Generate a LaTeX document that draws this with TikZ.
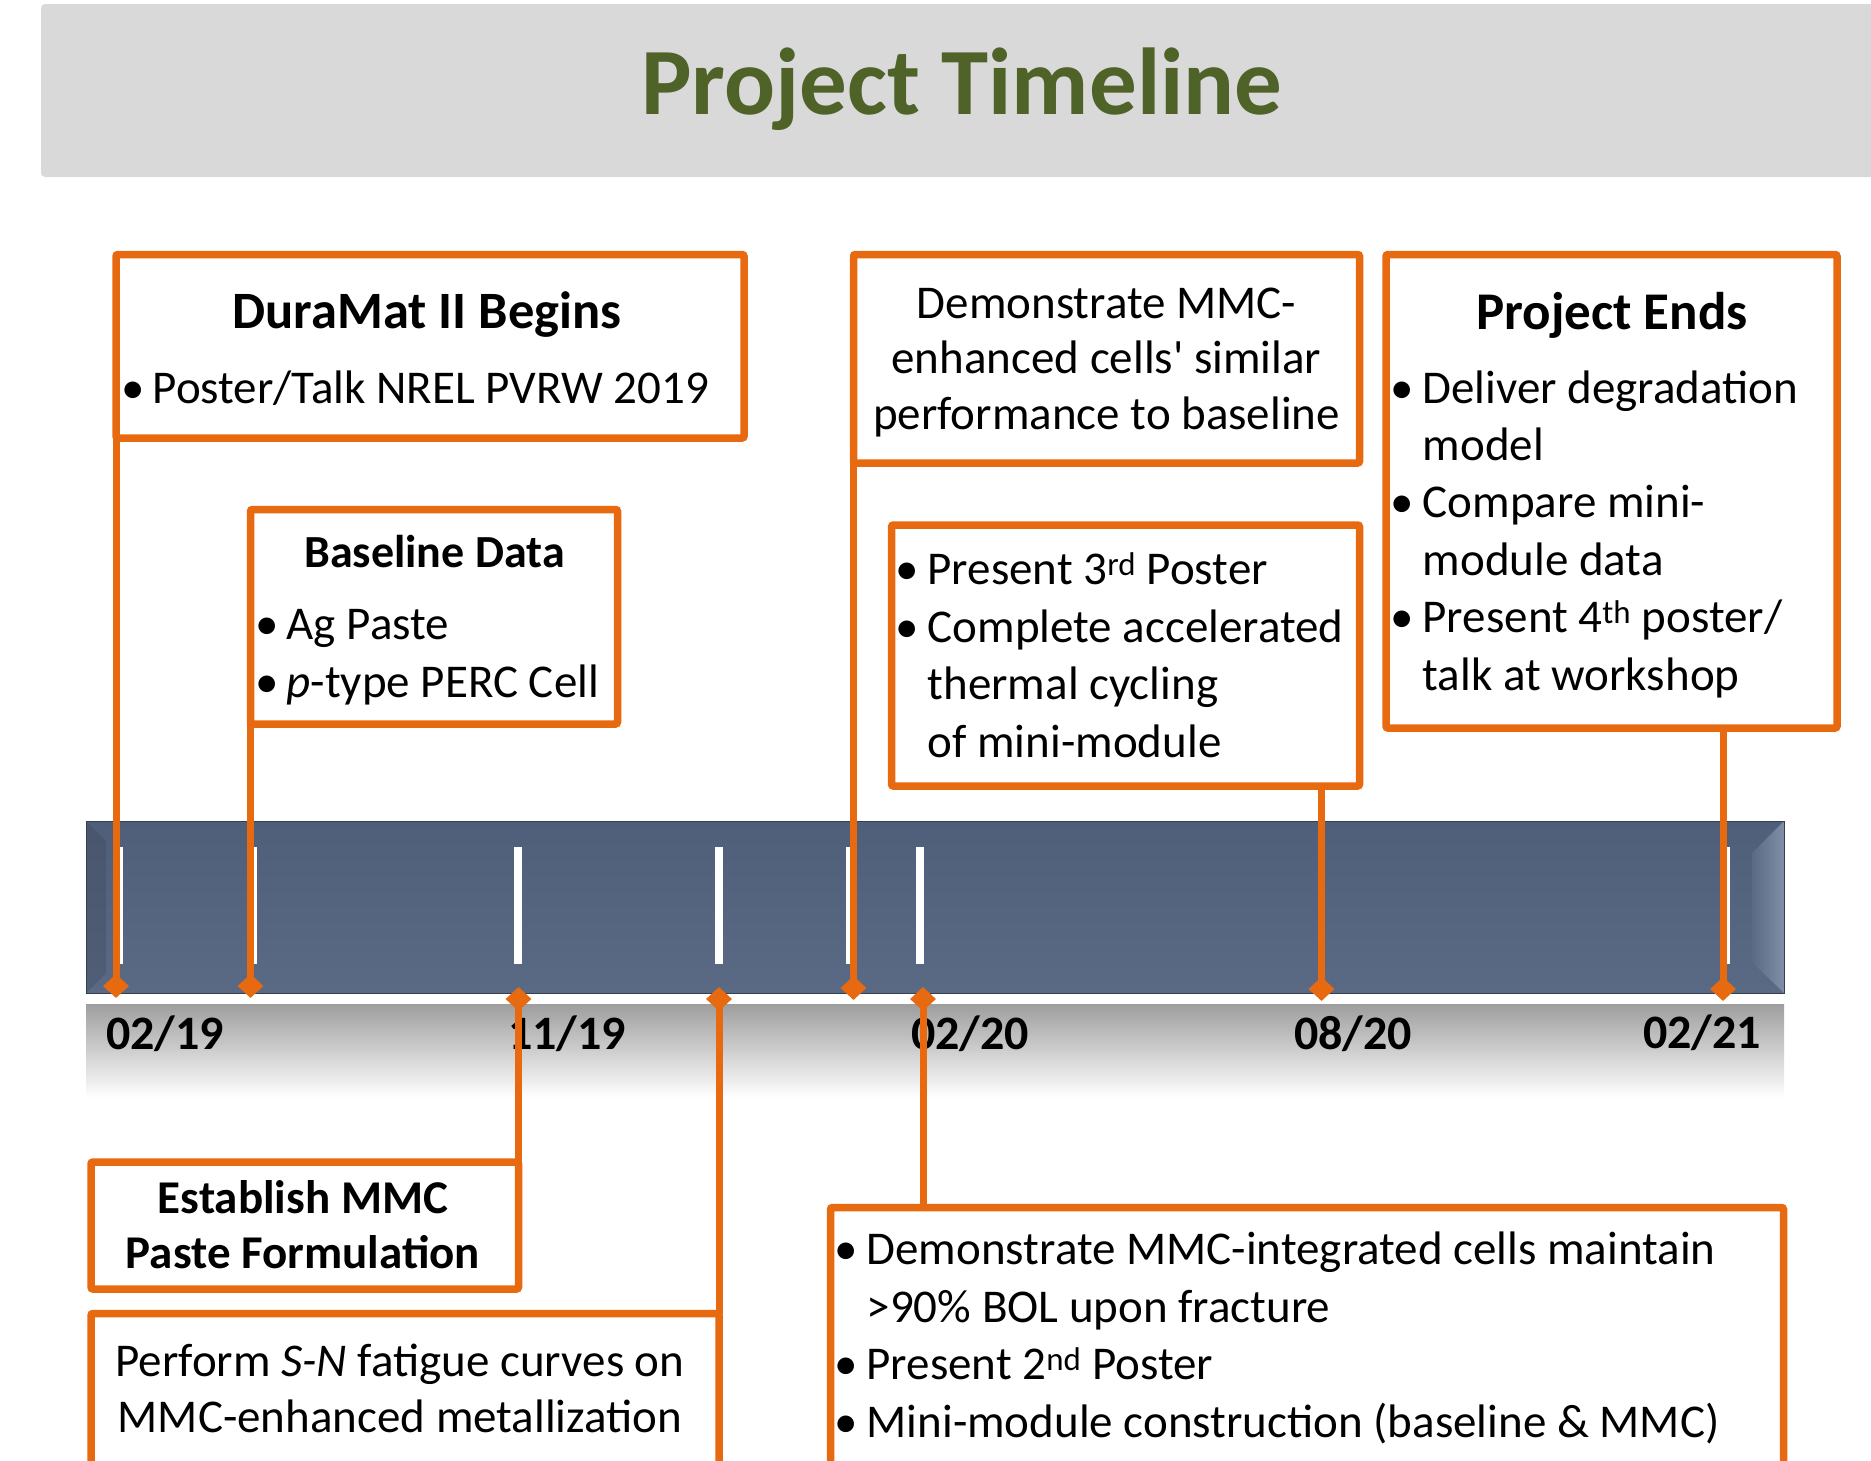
\documentclass[tikz,border=0pt]{standalone}
\usepackage{fontspec}
\setmainfont{Carlito}
\usepackage{tikz}
\usetikzlibrary{shapes.geometric}

\definecolor{tlorange}{RGB}{232,106,16}
\definecolor{tlgreen}{RGB}{79,98,40}
\definecolor{tlhead}{RGB}{217,217,217}
\definecolor{bartop}{RGB}{80,95,121}
\definecolor{barbot}{RGB}{90,106,132}
\definecolor{baredge}{RGB}{128,143,167}

\newcommand{\bul}[1][32pt]{\makebox[#1][l]{\textbullet}}
\newcommand{\cont}[1][32pt]{\hspace*{#1}}

\tikzset{
    evbox/.style={draw=tlorange, line width=7.5pt, fill=white, rectangle, rounded corners=2pt,
        inner sep=0pt, outer sep=0pt, anchor=north west},
    conn/.style={draw=tlorange, line width=7pt},
    pin/.style={diamond, fill=tlorange, inner sep=0pt, minimum width=26pt, minimum height=24pt},
    body/.style={font=\fontsize{47}{57.4}\selectfont, align=left, anchor=base west, inner sep=0pt},
    head/.style={font=\bfseries\fontsize{53}{60}\selectfont, anchor=base, inner sep=0pt},
    date/.style={font=\bfseries\fontsize{48}{55}\selectfont, anchor=base west, inner sep=0pt},
}

\begin{document}
\begin{tikzpicture}[x=1pt, y=-1pt]
    \useasboundingbox (0,0) rectangle (1871,1460);
    \clip (0,0) rectangle (1871,1460);

    % title strip
    \fill[tlhead, rounded corners=4pt] (41,4) rectangle (1900,177);
    \node[font=\bfseries\fontsize{95}{100}\selectfont, text=tlgreen, anchor=base, inner sep=0pt] (title) at (962,114) {Project Timeline};

    % the time bar and the date strip under it
    \shade[top color=bartop, bottom color=barbot] (86,821) rectangle (1784,993);
    \shade[left color=barbot, right color=baredge] (1752,853) -- (1784,821) -- (1784,993) -- (1752,962) -- cycle;
    \fill[bartop!70!black, opacity=0.3] (86,821) -- (106,841) -- (106,973) -- (86,993) -- cycle;
    \draw[barbot!60!black, line width=1pt] (86,821) rectangle (1784,993);
    \foreach \x in {119,253,518,719,850,920,1726}
        \fill[white] (\x-4,847) rectangle (\x+4,964);
    \shade[top color=black!38, bottom color=white] (86,1004) rectangle (1784,1098);

    \node[date] (feb19) at (106,1049) {02/19};
    \node[date] (nov19) at (508,1049) {11/19};
    \node[date] (feb20) at (911,1049) {02/20};
    \node[date] (aug20) at (1294,1049) {08/20};
    \node[date] (feb21) at (1643,1048) {02/21};

    % milestone boxes
    \node[evbox, minimum width=628pt, minimum height=183.5pt] (begins) at (116,254.5) {};
    \node[evbox, minimum width=367pt, minimum height=214.5pt] (basedata) at (250.5,509.5) {};
    \node[evbox, minimum width=506pt, minimum height=208.5pt] (demo) at (853.5,254.5) {};
    \node[evbox, minimum width=468pt, minimum height=261pt] (thermal) at (891.5,525) {};
    \node[evbox, minimum width=451pt, minimum height=473.5pt] (ends) at (1386,254.5) {};
    \node[evbox, minimum width=427.5pt, minimum height=127pt] (paste) at (91,1162) {};
    \node[evbox, minimum width=628pt, minimum height=190pt] (sncurve) at (91,1313.5) {};
    \node[evbox, minimum width=953pt, minimum height=290pt] (bol) at (830.5,1207.5) {};

    \coordinate (mBegin) at (116,986);
    \coordinate (mBase) at (250.5,986);
    \coordinate (mDemo) at (853.5,988);
    \coordinate (mThermal) at (1321.5,989);
    \coordinate (mEnd) at (1723,989);
    \coordinate (mPaste) at (518.5,999);
    \coordinate (mSN) at (719,999);
    \coordinate (mBOL) at (923,999);

    \draw[conn] (begins.south west) -- (mBegin);
    \draw[conn] (basedata.south west) -- (mBase);
    \draw[conn] (demo.south west) -- (mDemo);
    \draw[conn] (thermal.south -| mThermal) -- (mThermal);
    \draw[conn] (ends.south -| mEnd) -- (mEnd);
    \draw[conn] (paste.north east) -- (mPaste);
    \draw[conn] (sncurve.north east) -- (mSN);
    \draw[conn] (bol.north -| mBOL) -- (mBOL);

    \foreach \m in {mBegin,mBase,mDemo,mThermal,mEnd,mPaste,mSN,mBOL}
        \node[pin] (pin-\m) at (\m) {};

    % box texts (multi-line nodes sit on their last baseline)
    \node[head, font=\bfseries\fontsize{52.5}{60}\selectfont] (beginsHd) at (427,328) {DuraMat II Begins};
    \node[body] (beginsTx) at (121.5,403) {\bul[31pt]Poster/Talk NREL PVRW 2019};

    \node[head, font=\bfseries\fontsize{46}{57}\selectfont] (basedataHd) at (434.5,567) {Baseline Data};
    \node[body, font=\fontsize{47}{58}\selectfont] (basedataTx) at (255.5,697) {\bul[31pt]Ag Paste\\ \bul[31pt]\textit{p}-type PERC Cell};

    \node[body, align=center, anchor=base, font=\fontsize{47}{55.5}\selectfont] (demoTx) at (1106.5,429)
        {Demonstrate MMC-\\enhanced cells\textquotesingle{} similar\\performance to baseline};

    \node[body] (thermalTx) at (895.5,757) {\bul Present 3\textsuperscript{rd} Poster\\ \bul Complete accelerated\\ \cont thermal cycling\\ \cont of mini-module};

    \node[head] (endsHd) at (1612,329) {Project Ends};
    \node[body] (endsTx) at (1390.5,690) {\bul Deliver degradation\\ \cont model\\ \bul Compare mini-\\ \cont module data\\ \bul Present 4\textsuperscript{th} poster/\\ \cont talk at workshop};

    \node[head, align=center, font=\bfseries\fontsize{47}{55}\selectfont] (pasteTx) at (303,1268) {Establish MMC\\Paste Formulation};

    \node[body, align=center, anchor=base, font=\fontsize{47}{56}\selectfont] (sncurveTx) at (400,1432)
        {Perform \textit{S-N} fatigue curves on\\MMC-enhanced metallization};

    \node[body] (bolTx) at (834.5,1437) {\bul Demonstrate MMC-integrated cells maintain\\ \cont >90\% BOL upon fracture\\ \bul Present 2\textsuperscript{nd} Poster\\ \bul Mini-module construction (baseline \& MMC)};
\end{tikzpicture}
\end{document}
